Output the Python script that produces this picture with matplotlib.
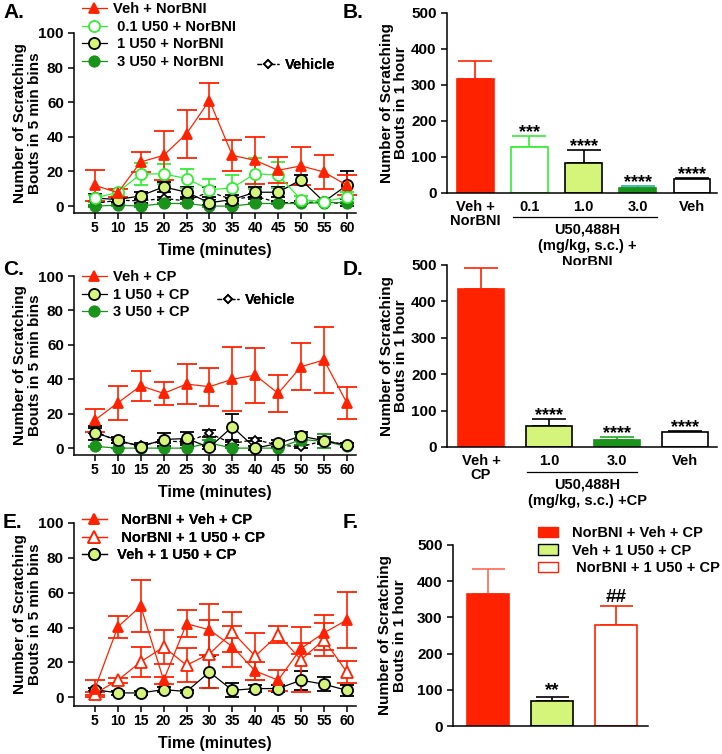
import matplotlib.pyplot as plt
from matplotlib.lines import Line2D
from matplotlib.patches import Patch
import numpy as np

plt.rcParams['font.family'] = ['Liberation Sans', 'DejaVu Sans']
plt.rcParams['font.weight'] = 'bold'
plt.rcParams['axes.labelweight'] = 'bold'
plt.rcParams['font.size'] = 10

RED = '#ff2200'
LIME = '#33ee33'
YEL = '#d4f57a'
DGREEN = '#1a931a'
TEAL = '#2ab0a0'

time_min = [5, 10, 15, 20, 25, 30, 35, 40, 45, 50, 55, 60]

# panel A
a_veh_norbni = [12, 7.7, 25.5, 29.3, 41.8, 61, 29.3, 26.4, 20.7, 23.2, 19.7, 12]
a_veh_norbni_sem = [9, 2.3, 6, 14, 13.8, 10.4, 9, 13.4, 7.6, 10.8, 9.6, 5.8]
a_u01 = [4.5, 8, 18.5, 18.6, 15.9, 9.4, 10.5, 18.8, 17.8, 3.8, 2.5, 5.2]
a_u01_sem = [2, 2, 6.5, 6, 5.7, 6.5, 7.7, 9, 7.6, 2, 1, 3]
a_u1 = [4.6, 3.8, 5.9, 11.1, 8, 1.9, 3.8, 8, 8, 15.2, 2.5, 12]
a_u1_sem = [2.5, 1.5, 2, 3, 3, 1.5, 2.5, 3, 3, 3, 1, 8]
a_u3 = [0, 0.5, 0, 1.5, 1.5, 0, 0, 1.5, 1.5, 1.5, 2, 2]
a_u3_sem = [0.5, 0.5, 0.5, 0.5, 0.5, 0.5, 0.5, 0.5, 0.5, 0.5, 0.5, 0.5]
a_veh = [1.5, 3.4, 3, 4.4, 3, 8.2, 3.8, 5.7, 2, 2, 2.5, 1]
a_veh_sem = [1.5, 1, 1, 1, 1, 3, 1, 1.5, 1, 1, 1, 1]

# panel B
b_labels = ['Veh +\nNorBNI', '0.1', '1.0', '3.0', 'Veh']
b_means = [316, 129, 84, 13, 38]
b_sem = [51, 30, 35, 6, 4.5]
b_stars = ['', '***', '****', '****', '****']

# panel C
c_veh_cp = [16.3, 26.3, 36.2, 31.8, 37.2, 35.7, 40, 42.4, 31.8, 47.3, 51.2, 26.3]
c_veh_cp_sem = [6.7, 9.7, 8.8, 6.8, 11.4, 11, 18.5, 15.9, 10.6, 13.6, 19.3, 9.3]
c_u1 = [8.9, 4.7, 0.8, 5, 5.6, 0.4, 12.4, 0, 2.7, 7, 4.3, 1.7]
c_u1_sem = [4, 1.5, 1, 4, 3.5, 1, 7.4, 1, 2, 2.5, 2, 1]
c_u3 = [1, 0, 0, 0, 0, 3, 0, 0, 0, 5, 4, 1]
c_u3_sem = [0.5, 0, 0, 0, 0, 2, 0, 0, 0, 3, 4, 0.5]
c_veh = [10, 3.7, 1.7, 4, 3.7, 8.5, 2.7, 5, 1.7, 0.8, 4.3, 2]
c_veh_sem = [1.5, 1, 1, 1, 1, 2, 1, 1, 1, 1, 1, 1]

# panel D
d_labels = ['Veh +\nCP', '1.0', '3.0', 'Veh']
d_means = [433, 58.6, 19, 40]
d_sem = [60, 17, 9, 5]
d_stars = ['', '****', '****', '****']

# panel E
e_nor_veh = [5, 40.4, 52.3, 9.8, 42.2, 38.7, 29.1, 15.1, 9.8, 28, 37, 44.3]
e_nor_veh_sem = [5, 6.5, 15, 2, 7.8, 14.7, 12, 5, 6, 3, 10, 16]
e_nor_u1 = [2.1, 9.8, 20.3, 28.9, 18.4, 24.9, 37.5, 23.6, 35.9, 21.6, 33, 14.5]
e_nor_u1_sem = [1, 1.5, 8.5, 9.6, 9.6, 19.5, 11.5, 13.5, 4.8, 18.5, 9.5, 6.5]
e_veh_u1 = [4.4, 2.5, 2.5, 4.4, 3.3, 14.5, 4, 5, 5, 9.8, 7.5, 4]
e_veh_u1_sem = [1, 1, 1, 1.5, 1, 9, 4, 2, 2, 5.5, 4, 3]

# panel F
f_labels = ['NorBNI + Veh + CP', 'Veh + 1 U50 + CP', ' NorBNI + 1 U50 + CP']
f_means = [364.6, 70, 279]
f_sem = [68, 9, 52]
f_marks = ['', '**', '##']

W, H = 722, 754
fig = plt.figure(figsize=(W / 100, H / 100), dpi=100)


def fx(px):
    return px / W


def fy(py):
    return 1 - py / H


def style_axes(ax):
    for s in ['top', 'right']:
        ax.spines[s].set_visible(False)
    for s in ['left', 'bottom']:
        ax.spines[s].set_linewidth(1.1)
    ax.tick_params(direction='out', length=4, width=1.1, labelsize=11)


# series styles: (marker, ms, line colour, face, edge, err colour, ls)
STY = {
    'red': ('^', 7.5, RED, RED, RED, RED, '-'),
    'redopen': ('^', 8, RED, 'white', RED, RED, '-'),
    'lime': ('o', 8, LIME, 'white', LIME, LIME, '-'),
    'yel': ('o', 8, 'black', YEL, 'black', 'black', '-'),
    'dg': ('o', 7.5, DGREEN, DGREEN, DGREEN, DGREEN, '-'),
    'veh': ('D', 4.5, 'black', 'white', 'black', 'black', '--'),
}


def series(ax, y, sem, key):
    m, ms, c, fc, ec, erc, ls = STY[key]
    cap = 7 if key.startswith('red') else 5
    ax.errorbar(time_min, y, yerr=sem, color=c, ls=ls, lw=0.9, marker=m, ms=ms,
                mfc=fc, mec=ec, mew=1.3, ecolor=erc, elinewidth=1.2,
                capsize=cap, capthick=1.2, dashes=(3, 2) if ls == '--' else (None, None))


def handle(key):
    m, ms, c, fc, ec, erc, ls = STY[key]
    return Line2D([], [], color=c, ls=ls, lw=0.9, marker=m, ms=ms, mfc=fc, mec=ec, mew=1.3)


def line_panel(rect, ylo):
    ax = fig.add_axes(rect)
    style_axes(ax)
    ax.tick_params(axis='x', labelsize=10, pad=1.5)
    ax.set_xlim(0.5, 62)
    ax.set_ylim(ylo, 100)
    ax.set_xticks(time_min)
    ax.set_yticks([0, 20, 40, 60, 80, 100])
    ax.set_ylabel('Number of Scratching\nBouts in 5 min bins', fontsize=11, linespacing=1.05)
    ax.yaxis.set_label_coords(-0.115, 0.5)
    return ax


def put_legend(ax, keys, labels, px, py, hl=1.7):
    lg = ax.legend([handle(k) for k in keys], labels, loc='upper left',
                   bbox_to_anchor=(fx(px), fy(py)), bbox_transform=fig.transFigure,
                   frameon=False, borderpad=0, borderaxespad=0, handlelength=hl,
                   handletextpad=0.4, labelspacing=0.25, fontsize=10.5)
    ax.add_artist(lg)
    return lg


def bar_panel(rect, xlim, labels, means, sem, faces, edges, ecols, width):
    ax = fig.add_axes(rect)
    style_axes(ax)
    x = np.arange(len(means))
    ax.bar(x, means, width=width, color=faces, edgecolor=edges, linewidth=1.2, zorder=2)
    for i in range(len(means)):
        ax.errorbar(x[i], means[i], yerr=[[0], [sem[i]]], color=ecols[i], lw=1.2,
                    capsize=width * 18, capthick=1.2, zorder=1)
    ax.set_xlim(*xlim)
    ax.set_ylim(0, 500)
    ax.set_yticks([0, 100, 200, 300, 400, 500])
    ax.set_xticks(x)
    ax.set_xticklabels(labels, linespacing=1.0, fontsize=10.5)
    ax.tick_params(axis='x', length=0, pad=5)
    ax.set_ylabel('Number of Scratching\nBouts in 1 hour', fontsize=11, linespacing=1.05)
    return ax


# ---- A ----
axA = line_panel([fx(74.3), fy(213), 281.7 / W, 180 / H], -4)
series(axA, a_veh, a_veh_sem, 'veh')
series(axA, a_u3, a_u3_sem, 'dg')
series(axA, a_u1, a_u1_sem, 'yel')
series(axA, a_u01, a_u01_sem, 'lime')
series(axA, a_veh_norbni, a_veh_norbni_sem, 'red')
axA.set_xlabel('Time (minutes)', fontsize=11.5)
axA.xaxis.set_label_coords(0.5, -0.165)
put_legend(axA, ['red', 'lime', 'yel', 'dg'],
           ['Veh + NorBNI', ' 0.1 U50 + NorBNI', ' 1 U50 + NorBNI', ' 3 U50 + NorBNI'], 82, 2)
put_legend(axA, ['veh'], ['Vehicle'], 257, 58, hl=1.5)

# ---- C ----
axC = line_panel([fx(74.3), fy(455), 281.7 / W, 179 / H], -4)
series(axC, c_veh, c_veh_sem, 'veh')
series(axC, c_u3, c_u3_sem, 'dg')
series(axC, c_u1, c_u1_sem, 'yel')
series(axC, c_veh_cp, c_veh_cp_sem, 'red')
axC.set_xlabel('Time (minutes)', fontsize=11.5)
axC.xaxis.set_label_coords(0.5, -0.165)
put_legend(axC, ['red', 'yel', 'dg'], ['Veh + CP', '1 U50 + CP', '3 U50 + CP'], 82, 270)
put_legend(axC, ['veh'], ['Vehicle'], 217, 293, hl=1.5)

# ---- E ----
axE = line_panel([fx(74.3), fy(706), 281.7 / W, 183 / H], -5)
series(axE, e_veh_u1, e_veh_u1_sem, 'yel')
series(axE, e_nor_u1, e_nor_u1_sem, 'redopen')
series(axE, e_nor_veh, e_nor_veh_sem, 'red')
axE.set_xlabel('Time (minutes)', fontsize=11.5)
axE.xaxis.set_label_coords(0.5, -0.164)
put_legend(axE, ['red', 'redopen', 'yel'],
           ['  NorBNI + Veh + CP', '  NorBNI + 1 U50 + CP', ' Veh + 1 U50 + CP'], 82, 513)

# ---- B ----
axB = bar_panel([fx(447), fy(193), 270 / W, 180 / H], (-0.52, 4.46), b_labels, b_means, b_sem,
                [RED, 'white', YEL, DGREEN, 'white'], [RED, LIME, 'black', DGREEN, 'black'],
                [RED, LIME, 'black', TEAL, 'black'], 0.68)
axB.yaxis.set_label_coords(-0.144, 0.5)
for i, s in enumerate(b_stars):
    if s:
        axB.text(i, b_means[i] + b_sem[i] - 14, s, ha='center', va='bottom', fontsize=13)
axB.plot([0.70, 3.35], [-0.133, -0.133], color='black', lw=0.9,
         transform=axB.get_xaxis_transform(), clip_on=False)
axB.text(2.06, -0.165, 'U50,488H\n(mg/kg, s.c.) +\nNorBNI', ha='center', va='top',
         fontsize=10.5, linespacing=1.2, transform=axB.get_xaxis_transform())

# ---- D ----
axD = bar_panel([fx(447), fy(447), 270 / W, 182 / H], (-0.5, 3.47), d_labels, d_means, d_sem,
                [RED, YEL, DGREEN, 'white'], [RED, 'black', DGREEN, 'black'],
                [RED, 'black', '#22aa22', 'black'], 0.68)
axD.yaxis.set_label_coords(-0.144, 0.5)
for i, s in enumerate(d_stars):
    if s:
        axD.text(i, d_means[i] + d_sem[i] - 14, s, ha='center', va='bottom', fontsize=13)
axD.plot([0.68, 2.29], [-0.137, -0.137], color='black', lw=0.9,
         transform=axD.get_xaxis_transform(), clip_on=False)
axD.text(1.56, -0.17, 'U50,488H\n(mg/kg, s.c.) +CP', ha='center', va='top',
         fontsize=10.5, linespacing=1.2, transform=axD.get_xaxis_transform())

# ---- F ----
axF = bar_panel([fx(453), fy(726), 195 / W, 181 / H], (-0.55, 2.5), ['', '', ''], f_means, f_sem,
                [RED, YEL, 'white'], [RED, 'black', RED], ['#ff6a50', 'black', RED], 0.66)
axF.yaxis.set_label_coords(-0.236, 0.5)
for i, s in enumerate(f_marks):
    if s:
        off = -6 if s == '**' else 1
        axF.text(i, f_means[i] + f_sem[i] + off, s, ha='center', va='bottom', fontsize=13.5)
f_handles = [Patch(facecolor=RED, edgecolor=RED),
             Patch(facecolor=YEL, edgecolor='black'),
             Patch(facecolor='white', edgecolor=RED)]
axF.legend(f_handles, f_labels, loc='upper left', bbox_to_anchor=(fx(538), fy(526)),
           bbox_transform=fig.transFigure, frameon=False, borderpad=0, borderaxespad=0,
           handlelength=1.4, handleheight=0.72, handletextpad=0.9, labelspacing=0.25,
           fontsize=10.5)

for lab, px, py in [('A.', 3, 13), ('B.', 343, 13), ('C.', 3, 270), ('D.', 343, 270),
                    ('E.', 3, 522), ('F.', 343, 522)]:
    fig.text(fx(px), fy(py), lab, fontsize=15, fontweight='bold', va='center', ha='left')

fig.savefig('out.png', dpi=100)
